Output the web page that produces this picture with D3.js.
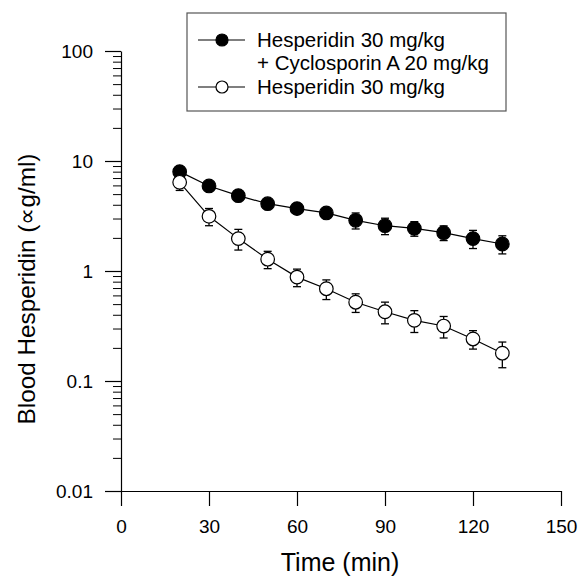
<!DOCTYPE html>
<html>
<head>
<meta charset="utf-8">
<script src="https://cdn.jsdelivr.net/npm/d3@7/dist/d3.min.js"></script>
<style>
  body { margin: 0; background: #fff; }
  svg { font-family: Arial, "Liberation Sans", sans-serif; }
</style>
</head>
<body>
<svg id="chart" width="579" height="582"></svg>
<script>
// sampling times (min)
const times = [20, 30, 40, 50, 60, 70, 80, 90, 100, 110, 120, 130];
// Hesperidin 30 mg/kg + Cyclosporin A 20 mg/kg
const comboMean = [8.0, 5.93, 4.84, 4.09, 3.69, 3.37, 2.89, 2.58, 2.44, 2.23, 1.97, 1.76];
const comboErr = [0.8, 0.4, 0.35, 0.3, 0.3, 0.33, 0.48, 0.44, 0.37, 0.34, 0.37, 0.33];
// Hesperidin 30 mg/kg alone
const hespMean = [6.4, 3.14, 1.97, 1.28, 0.88, 0.69, 0.52, 0.426, 0.356, 0.316, 0.241, 0.179];
const hespErr = [1.0, 0.56, 0.42, 0.23, 0.16, 0.14, 0.1, 0.095, 0.08, 0.07, 0.046, 0.047];

const xTicks = [0, 30, 60, 90, 120, 150];
const yTicks = [0.01, 0.1, 1, 10, 100];
const yTickLabels = ["0.01", "0.1", "1", "10", "100"];

const series = [
  { name: ["Hesperidin 30 mg/kg", "+ Cyclosporin A 20 mg/kg"], mean: comboMean, err: comboErr, fill: "#000" },
  { name: ["Hesperidin 30 mg/kg"], mean: hespMean, err: hespErr, fill: "#fff" }
];

const svg = d3.select("#chart");
const x = d3.scaleLinear().domain([0, 150]).range([121, 561]);
const y = d3.scaleLog().domain([0.01, 100]).range([491, 51]);

// minor ticks for log axis
const minor = [];
yTicks.slice(0, -1).forEach(d => { for (let k = 2; k <= 9; k++) minor.push(d * k); });

svg.append("g")
  .attr("transform", "translate(121,0)")
  .call(d3.axisLeft(y).tickValues(minor).tickSize(8).tickSizeOuter(0).tickFormat(""))
  .call(g => g.select(".domain").remove());

const yAxis = svg.append("g")
  .attr("transform", "translate(121,0)")
  .call(d3.axisLeft(y).tickValues(yTicks).tickSize(16).tickSizeOuter(0).tickPadding(12)
    .tickFormat((d, i) => yTickLabels[i]));

const xAxis = svg.append("g")
  .attr("transform", "translate(0,491)")
  .call(d3.axisBottom(x).tickValues(xTicks).tickSize(15).tickSizeOuter(0).tickPadding(14));

[xAxis, yAxis].forEach(g => {
  g.selectAll("line, path").attr("stroke", "#000").attr("stroke-width", 1.2);
  g.selectAll("text").attr("fill", "#000").style("font-size", "19px");
});
svg.selectAll("g line").attr("stroke", "#000");

// axis titles
svg.append("text")
  .attr("x", 340).attr("y", 571)
  .attr("text-anchor", "middle")
  .style("font-size", "25px")
  .text("Time (min)");

svg.append("text")
  .attr("transform", "translate(35,289) rotate(-90)")
  .attr("text-anchor", "middle")
  .style("font-size", "24.3px")
  .text("Blood Hesperidin (\u221Dg/ml)");

const line = d3.line().x(d => x(d.t)).y(d => y(d.v));
const r = 6.8, cap = 4;

series.forEach(s => {
  const pts = times.map((t, i) => ({ t, v: s.mean[i], e: s.err[i] }));
  const g = svg.append("g");
  // error bars
  const eb = g.selectAll(".eb").data(pts).enter().append("g")
    .attr("stroke", "#000").attr("stroke-width", 1.3);
  eb.append("line")
    .attr("x1", d => x(d.t)).attr("x2", d => x(d.t))
    .attr("y1", d => y(d.v + d.e)).attr("y2", d => y(d.v - d.e));
  eb.append("line")
    .attr("x1", d => x(d.t) - cap).attr("x2", d => x(d.t) + cap)
    .attr("y1", d => y(d.v + d.e)).attr("y2", d => y(d.v + d.e));
  eb.append("line")
    .attr("x1", d => x(d.t) - cap).attr("x2", d => x(d.t) + cap)
    .attr("y1", d => y(d.v - d.e)).attr("y2", d => y(d.v - d.e));
  g.append("path")
    .datum(pts)
    .attr("d", line)
    .attr("fill", "none").attr("stroke", "#000").attr("stroke-width", 1.2);
  g.selectAll("circle").data(pts).enter().append("circle")
    .attr("cx", d => x(d.t)).attr("cy", d => y(d.v)).attr("r", r)
    .attr("fill", s.fill).attr("stroke", "#000").attr("stroke-width", 1.2);
});

// legend
const lg = svg.append("g");
lg.append("rect")
  .attr("x", 187).attr("y", 13).attr("width", 319).attr("height", 98)
  .attr("fill", "#fff").attr("stroke", "#555").attr("stroke-width", 1.2);
const rowY = [40, 87];
const lineRow = [63];
series.forEach((s, i) => {
  const yy = rowY[i];
  lg.append("line").attr("x1", 198).attr("x2", 245).attr("y1", yy).attr("y2", yy)
    .attr("stroke", "#000").attr("stroke-width", 1.2);
  lg.append("circle").attr("cx", 222).attr("cy", yy).attr("r", 6)
    .attr("fill", s.fill).attr("stroke", "#000").attr("stroke-width", 1.2);
  s.name.forEach((txt, j) => {
    lg.append("text")
      .attr("x", 257).attr("y", j === 0 ? yy : lineRow[0])
      .attr("dy", "0.35em")
      .style("font-size", "20.5px")
      .text(txt);
  });
});
</script>
</body>
</html>
